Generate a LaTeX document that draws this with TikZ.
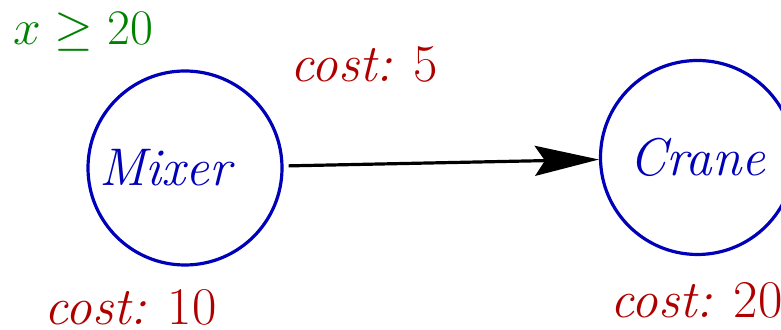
\documentclass[tikz,border=0pt]{standalone}
\usetikzlibrary{positioning, arrows.meta}

\definecolor{taskblue}{RGB}{0,0,185}
\definecolor{costred}{RGB}{175,0,0}
\definecolor{condgreen}{RGB}{0,130,0}

\begin{document}
\begin{tikzpicture}[
    x=1pt, y=1pt,
    task/.style={circle, draw=taskblue, line width=1.6pt, minimum size=97pt, inner sep=0pt, text=taskblue, font=\fontsize{26.5}{30}\selectfont\itshape},
    flow/.style={-{Stealth[length=32pt, width=15pt, inset=5pt]}, line width=1.6pt},
    cost/.style={anchor=base west, inner sep=0pt, text=costred, font=\fontsize{26.5}{30}\selectfont},
    cond/.style={anchor=base west, inner sep=0pt, text=condgreen, font=\fontsize{26.5}{30}\selectfont}
]
\useasboundingbox (0,0) rectangle (390.5,165);

% Tasks
\node[task] (mixer) at (92.5, 81) {\hspace*{-20pt}Mixer};
\node[task] (crane) at (348.75, 86.25) {Crane};

% Precedence
\draw[flow, shorten <=2.5pt] (mixer) -- (crane);

% Labels
\node[cond] (limit) at (6.5, 142.5) {$x \geq 20$};
\node[cost] (edgecost) at (145, 124) {\textit{cost:} 5};
\node[cost] (mixercost) at (22, 2.5) {\textit{cost:} 10};
\node[cost] (cranecost) at (305, 6) {\textit{cost:} 20};

\end{tikzpicture}
\end{document}
